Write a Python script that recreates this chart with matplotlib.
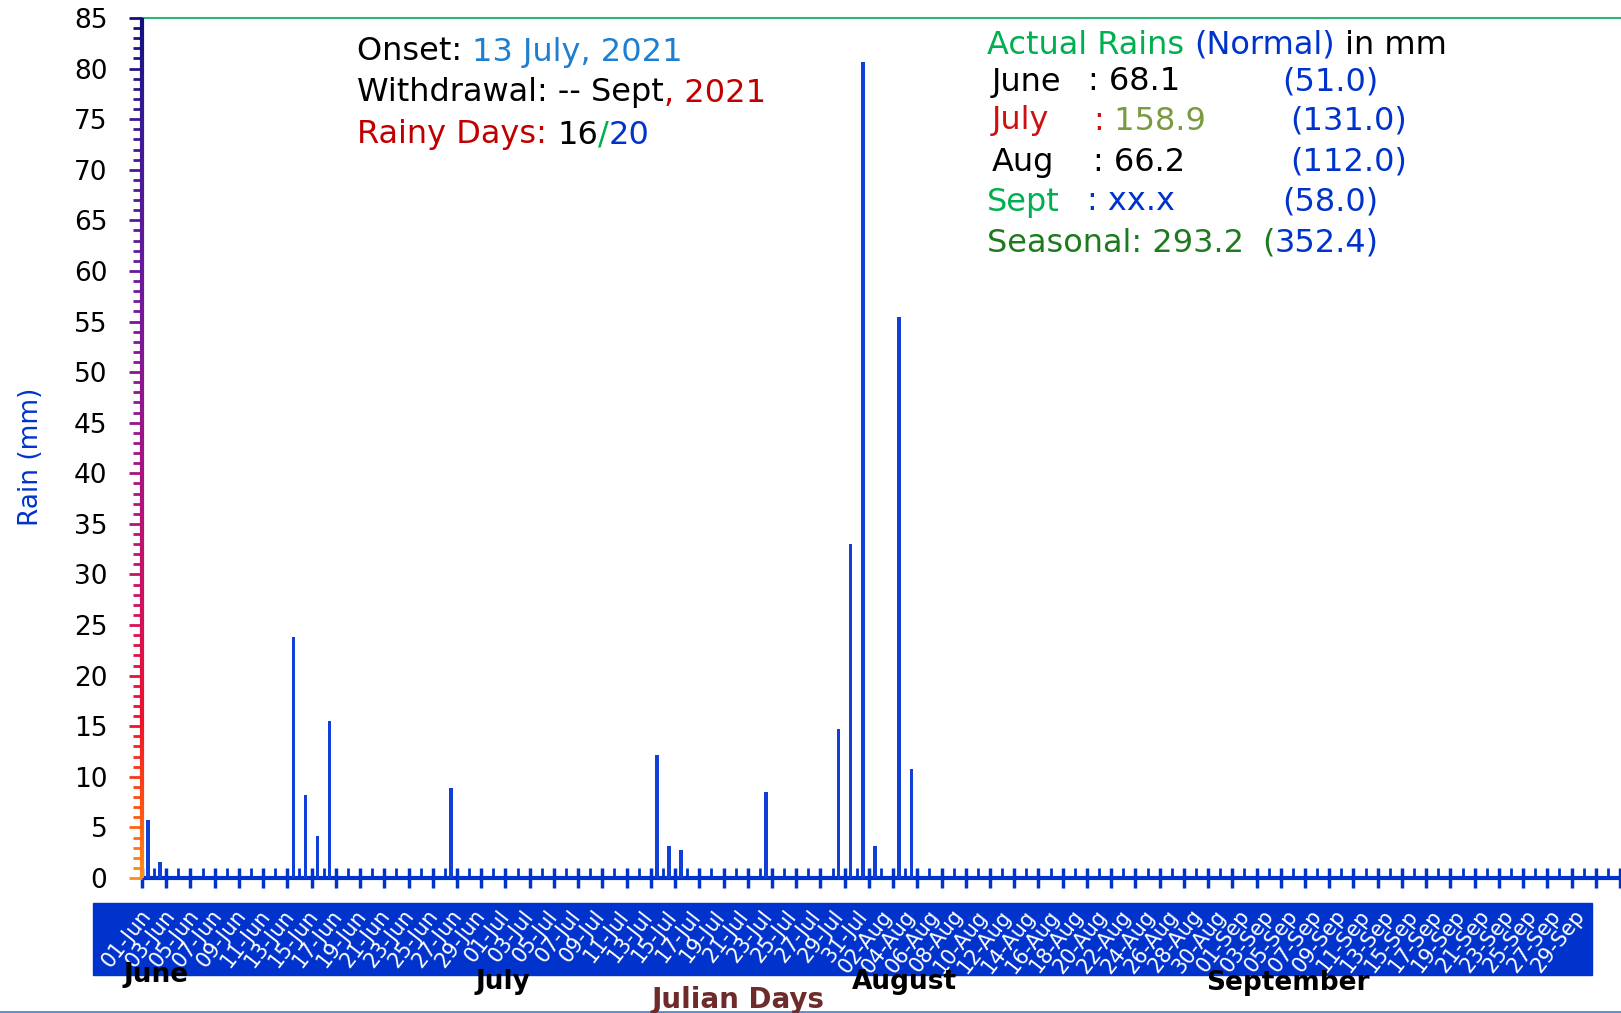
import matplotlib
matplotlib.use('Agg')
import matplotlib.pyplot as plt
import numpy as np
import datetime
from matplotlib.colors import LinearSegmentedColormap
from matplotlib.collections import LineCollection
from matplotlib.patches import Rectangle
from matplotlib.lines import Line2D

# daily rain, 01 Jun - 30 Sep 2021 (only the wet days)
rain_dates = ['01-Jun', '02-Jun', '13-Jun', '14-Jun', '15-Jun', '16-Jun', '26-Jun',
              '13-Jul', '14-Jul', '15-Jul', '22-Jul', '28-Jul', '29-Jul', '30-Jul', '31-Jul',
              '02-Aug', '03-Aug']
rain_mm = [5.7, 1.6, 23.8, 8.2, 4.2, 15.5, 8.9,
           12.2, 3.2, 2.8, 8.5, 14.7, 33.0, 80.7, 3.2,
           55.4, 10.8]

months = ['June', 'July', 'August', 'September']
month_x = [156, 503, 904, 1288]   # label centres, px
month_y = [975, 982, 982, 983]

W, H = 1621, 1013
BLUE = '#0033CC'
AX_W = 1478

start = datetime.date(2021, 6, 1)
days = [start + datetime.timedelta(d) for d in range(122)]
day_labels = [d.strftime('%d-%b') for d in days]
rain = np.zeros(len(days))
for dname, v in zip(rain_dates, rain_mm):
    rain[day_labels.index(dname)] = v

plt.rcParams['font.family'] = ['DejaVu Sans']

fig = plt.figure(figsize=(W / 100, H / 100), dpi=100)
ax = fig.add_axes([142 / W, 1 - 878 / H, AX_W / W, 860 / H])

x = np.arange(len(days)) + 0.5
ax.bar(x, rain, width=0.28, color='#1040D8', zorder=3)
ax.set_xlim(0, len(days))
ax.set_ylim(0, 85)

# y axis drawn with a colour gradient
cmap = LinearSegmentedColormap.from_list('yax', [
    (0.0, '#FF8C1A'), (0.08, '#FF5010'), (0.18, '#F01028'), (0.32, '#D01060'),
    (0.5, '#A01488'), (0.7, '#6A1A9C'), (0.88, '#3A1A95'), (1.0, '#10107F')])
ax.spines['left'].set_visible(False)
ax.spines['right'].set_visible(False)
ax.spines['top'].set_color('#2EB872')
ax.spines['top'].set_linewidth(1.5)
ax.spines['bottom'].set_color(BLUE)
ax.spines['bottom'].set_linewidth(3)

ytr = ax.get_yaxis_transform()
ys = np.linspace(0, 85, 200)
segs = [[(0, ys[i]), (0, ys[i + 1])] for i in range(len(ys) - 1)]
ax.add_collection(LineCollection(segs, colors=[cmap(v / 85) for v in ys[:-1]], linewidths=3,
                                 transform=ytr, clip_on=False, zorder=5))
yt = np.arange(0, 86, 1)
tsegs = [[(-(13 if v % 5 == 0 else 9) / AX_W, v), (0, v)] for v in yt]
ax.add_collection(LineCollection(tsegs, colors=[cmap(v / 85) for v in yt], linewidths=2,
                                 transform=ytr, clip_on=False, zorder=5))

ax.set_yticks(np.arange(0, 86, 5))
ax.tick_params(axis='y', which='both', length=0, labelsize=19, pad=25)

ax.set_xticks(np.arange(0, len(days) + 1, 2))
ax.set_xticks(np.arange(1, len(days), 2), minor=True)
ax.set_xticklabels([])
ax.tick_params(axis='x', which='major', direction='inout', length=14, width=2.5, color=BLUE)
ax.tick_params(axis='x', which='minor', direction='in', length=7, width=2, color=BLUE)

# blue date band under the axis
fig.patches.append(Rectangle((93 / W, 1 - 975 / H), 1499 / W, 72 / H,
                             transform=fig.transFigure, color=BLUE, zorder=-1))
band_labels = day_labels[0:len(days) - 1:2]
for i, lab in enumerate(band_labels):
    fig.text((147 + i * 23.9) / W, 1 - 912 / H, lab, rotation=52,
             rotation_mode='anchor', ha='right', va='center', color='white',
             fontsize=15, zorder=6)

for m, mx, my in zip(months, month_x, month_y):
    fig.text(mx / W, 1 - my / H, m, ha='center', va='center', fontsize=19,
             fontweight='bold', color='black', zorder=7)
fig.text(738 / W, 1 - 1000 / H, 'Julian Days', ha='center', va='center', fontsize=20,
         fontweight='bold', color='#6E2B2B')
fig.text(31 / W, 1 - 457 / H, 'Rain (mm)', rotation=90, ha='center', va='center',
         fontsize=19, color=BLUE)
fig.add_artist(Line2D([0, 1], [1.5 / H, 1.5 / H], transform=fig.transFigure,
                      color='#5B8BC8', lw=2))

renderer = fig.canvas.get_renderer()


def seg_text(px, py, parts, size=23):
    for s, c in parts:
        t = fig.text(px / W, 1 - py / H, s, color=c, fontsize=size, ha='left', va='center')
        px += t.get_window_extent(renderer=renderer).width


seg_text(357, 52, [('Onset: ', 'black'), ('13 July, 2021', '#1E7FD0')])
seg_text(357, 93, [('Withdrawal: -- Sept', 'black'), (', 2021', '#C00000')])
seg_text(357, 135, [('Rainy Days: ', '#C00000'), ('16', 'black'), ('/', '#00B050'),
                    ('20', BLUE)])

seg_text(987, 45, [('Actual Rains ', '#00B050'), ('(Normal)', BLUE), (' in mm', 'black')])
rows = [
    (992, 82, [('June', 'black')], 1088, [(': 68.1', 'black')], 1282, '(51.0)'),
    (992, 121, [('July', '#D01010')], 1093, [(':', '#D01010'), (' 158.9', '#7A9A40')], 1290, '(131.0)'),
    (992, 162, [('Aug', 'black')], 1093, [(': 66.2', 'black')], 1290, '(112.0)'),
    (987, 202, [('Sept', '#00B050')], 1087, [(': xx.x', BLUE)], 1282, '(58.0)'),
]
for lx, ly, lab, cx, val, nx, norm in rows:
    seg_text(lx, ly, lab)
    seg_text(cx, ly, val)
    seg_text(nx, ly, [(norm, BLUE)])
seg_text(987, 243, [('Seasonal: 293.2', '#1E7A1E')])
seg_text(1262, 243, [('(', '#1E7A1E'), ('352.4)', BLUE)])

fig.savefig('out.png', dpi=100)
